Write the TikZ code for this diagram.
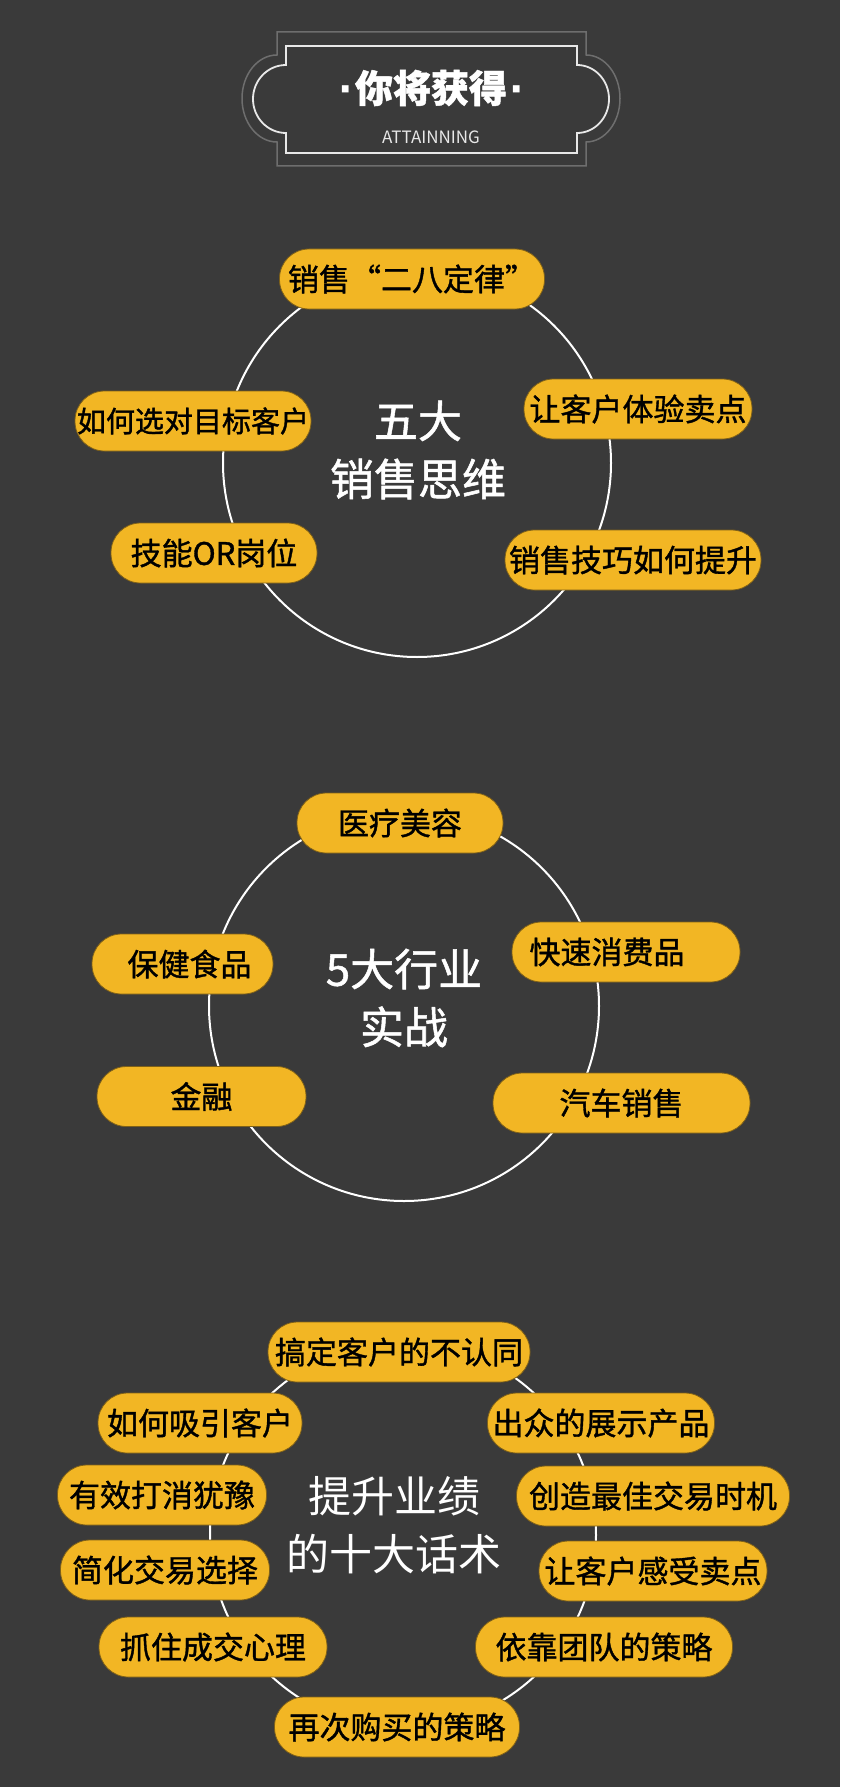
\documentclass[tikz,border=0pt]{standalone}
\usepackage{fontspec}
\setmainfont{Noto Sans CJK SC}
\newfontfamily\cjkm[FakeBold=1.2]{Noto Sans CJK SC}
\newfontfamily\cjkr{Noto Sans CJK SC}
\newfontfamily\dotfont{DejaVu Sans}
\definecolor{bg}{HTML}{3A3A3A}
\definecolor{pillY}{HTML}{F2B624}
\definecolor{pillE}{HTML}{7E6018}
\definecolor{frameG}{HTML}{6E6E6E}
\definecolor{frameW}{HTML}{E8E8E8}
\begin{document}
\begin{tikzpicture}[x=1pt,y=1pt,
  pill/.style={fill=pillY, draw=pillE, line width=0.8pt, rounded corners=29.5pt,
    minimum height=60pt, inner sep=0pt, text=black,
    font=\cjkm\fontsize{31}{36}\selectfont},
  ring/.style={circle, draw=white, line width=2pt, inner sep=0pt},
  hub/.style={text=white, align=center, font=\cjkm\fontsize{44}{58}\selectfont},
  hubthin/.style={text=white, align=center, font=\cjkr\fontsize{43}{58}\selectfont}]
\fill[bg] (0,0) rectangle (840,-1787);
\useasboundingbox (0,0) rectangle (840,-1787);

% header frame
\draw[frameG, line width=1.5pt] (277,-32) -- (586,-32) -- (586,-55)
  arc[start angle=90, end angle=-90, x radius=34, y radius=43.5]
  -- (586,-166) -- (277,-166) -- (277,-142)
  arc[start angle=270, end angle=90, x radius=35, y radius=43.5] -- cycle;
\draw[frameW, line width=1.8pt] (286,-46) -- (577,-46) -- (577,-65)
  arc[start angle=90, end angle=-90, x radius=32, y radius=34]
  -- (577,-153) -- (286,-153) -- (286,-133)
  arc[start angle=270, end angle=90, x radius=33, y radius=34] -- cycle;
\node[text=white, font=\cjkm\fontsize{38}{40}\selectfont\bfseries] (title) at (431,-88)
  {{\dotfont\bfseries ·}\kern2pt 你将获得\kern2pt{\dotfont\bfseries ·}};
\node[text=frameW, font=\cjkr\fontsize{17}{20}\selectfont] (sub) at (431,-137) {ATTAINNING};

% section 1
\node[ring, minimum size=388pt] (r1) at (417,-463) {};
\node[hub] (h1) at (418,-450) {五大\\销售思维};
\node[pill, minimum width=265pt] (p11) at (412,-279) {销售“二八定律”};
\node[pill, minimum width=236pt, font=\cjkm\fontsize{29}{34}\selectfont] (p12) at (193,-421) {如何选对目标客户};
\node[pill, minimum width=228pt] (p13) at (638,-409) {让客户体验卖点};
\node[pill, minimum width=206pt] (p14) at (214,-553) {技能OR岗位};
\node[pill, minimum width=256pt] (p15) at (633,-560) {销售技巧如何提升};

% section 2
\node[ring, minimum size=390pt] (r2) at (404,-1006) {};
\node[hub] (h2) at (404,-998) {5大行业\\实战};
\node[pill, minimum width=206pt] (p21) at (400,-823) {医疗美容};
\node[pill, minimum width=181pt] (p22) at (182.5,-964) {\kern14pt 保健食品};
\node[pill, minimum width=228pt] (p23) at (626,-952) {快速消费品\kern38pt};
\node[pill, minimum width=209pt] (p24) at (201.5,-1096.5) {金融};
\node[pill, minimum width=257pt] (p25) at (621.5,-1103) {汽车销售};

% section 3
\node[ring, minimum size=386pt] (r3) at (403,-1535) {};
\node[hubthin] (h3) at (394,-1525) {提升业绩\\的十大话术};
\node[pill, minimum width=262pt] (p31) at (399,-1352) {搞定客户的不认同};
\node[pill, minimum width=204pt] (p32) at (200,-1423) {如何吸引客户};
\node[pill, minimum width=227pt] (p33) at (601,-1423) {出众的展示产品};
\node[pill, minimum width=209pt] (p34) at (162,-1495) {有效打消犹豫};
\node[pill, minimum width=273pt] (p35) at (653,-1496) {创造最佳交易时机};
\node[pill, minimum width=209pt] (p36) at (165,-1570) {简化交易选择};
\node[pill, minimum width=228pt] (p37) at (653,-1571) {让客户感受卖点};
\node[pill, minimum width=228pt] (p38) at (213,-1647) {抓住成交心理};
\node[pill, minimum width=257pt] (p39) at (604,-1647) {依靠团队的策略};
\node[pill, minimum width=245pt] (p310) at (397,-1727) {再次购买的策略};
\end{tikzpicture}
\end{document}
